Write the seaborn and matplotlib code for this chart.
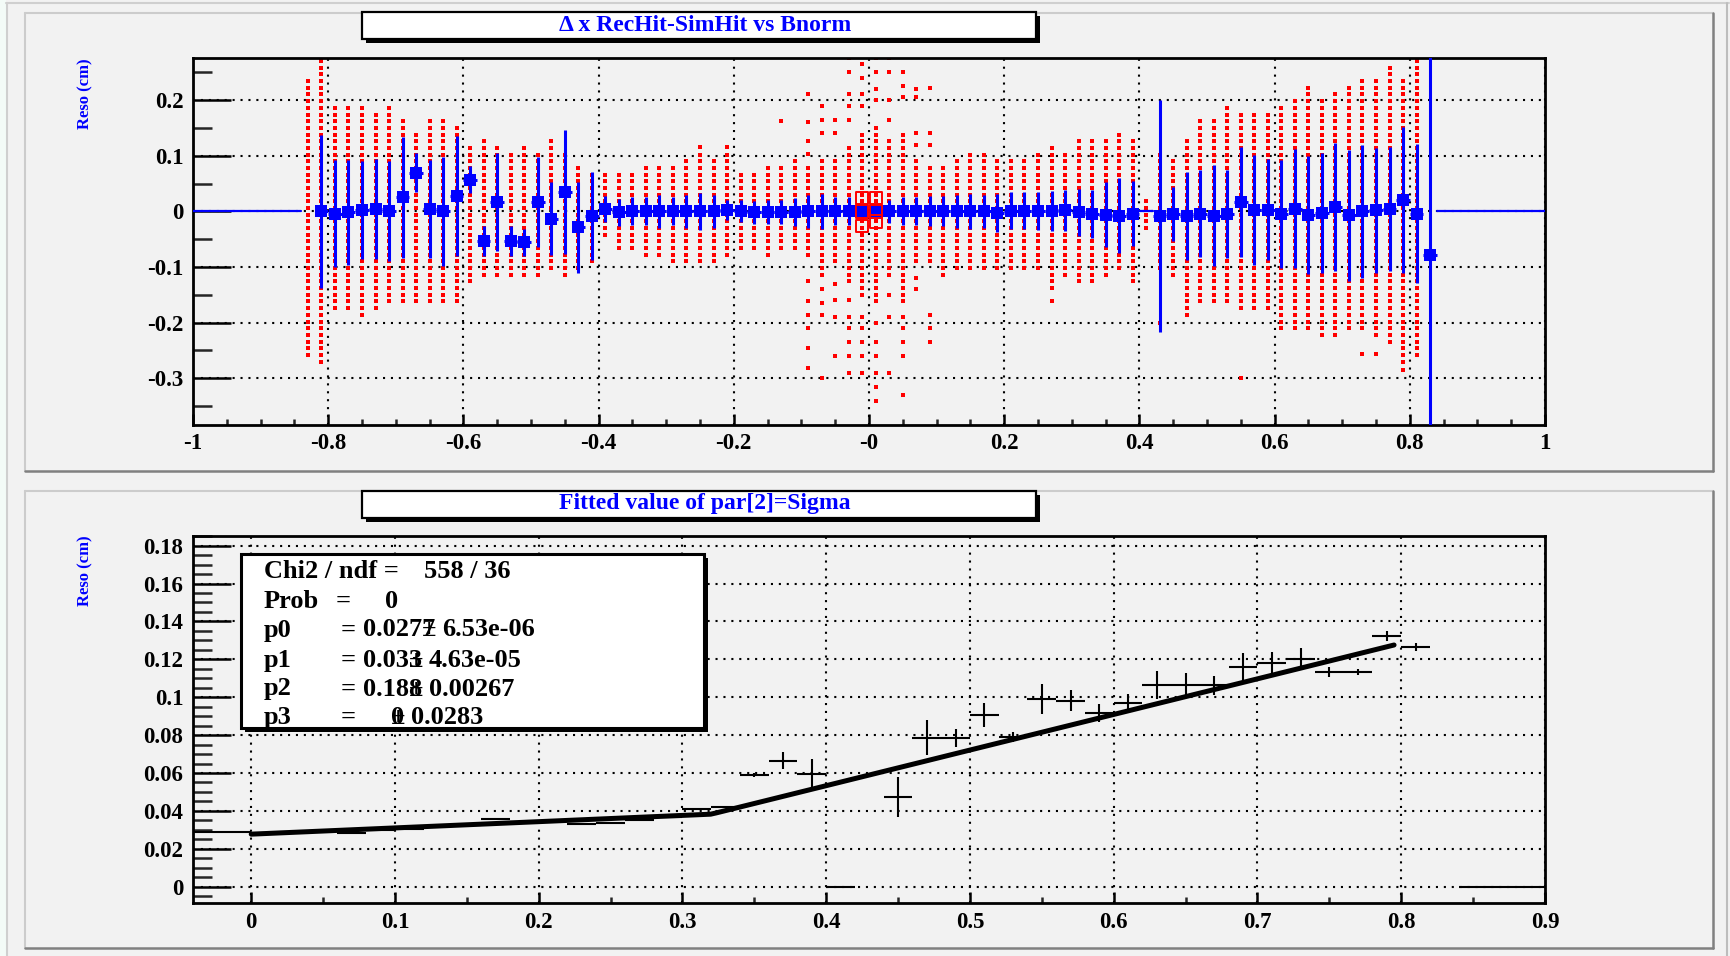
import numpy as np
import pandas as pd
import matplotlib
matplotlib.use("Agg")
import matplotlib.pyplot as plt
import seaborn as sns
from matplotlib.patches import Rectangle
from matplotlib.lines import Line2D
from matplotlib.ticker import FixedLocator, FixedFormatter, MultipleLocator

# ---------------------------------------------------------------- data
# upper pad: profile of Delta x (RecHit - SimHit) vs Bnorm, bins of 0.02
prof_x = [round(-0.81 + 0.02 * i, 2) for i in range(83)]
prof_mean = [
    0.000, -0.004, -0.002, 0.002, 0.004, 0.001, 0.025, 0.069, 0.005, 0.000,
    0.027, 0.057, -0.053, 0.017, -0.053, -0.056, 0.017, -0.013, 0.035, -0.029,
    -0.008, 0.004, -0.002, 0.000, 0.000, 0.000, 0.000, 0.000, 0.000, 0.000,
    0.003, 0.000, -0.002, -0.001, -0.001, -0.001, 0.000, 0.000, 0.000, 0.000,
    0.000, 0.000, 0.000, 0.000, 0.000, 0.000, 0.000, 0.000, 0.000, 0.000,
    -0.003, 0.001, 0.001, 0.001, 0.000, 0.002, -0.002, -0.005, -0.006, -0.008,
    -0.004, np.nan, -0.008, -0.005, -0.008, -0.004, -0.008, -0.005, 0.017, 0.002,
    0.003, -0.005, 0.005, -0.007, -0.003, 0.007, -0.007, 0.000, 0.002, 0.004,
    0.020, -0.004, -0.0785,
]
prof_err = [
    0.137, 0.096, 0.095, 0.088, 0.090, 0.090, 0.108, 0.035, 0.088, 0.098,
    0.108, 0.024, 0.027, 0.088, 0.027, 0.024, 0.081, 0.066, 0.112, 0.082,
    0.079, 0.024, 0.025, 0.025, 0.025, 0.030, 0.025, 0.030, 0.033, 0.030,
    0.018, 0.020, 0.020, 0.021, 0.021, 0.025, 0.030, 0.032, 0.025, 0.025,
    0.010, 0.010, 0.021, 0.025, 0.025, 0.027, 0.027, 0.030, 0.031, 0.030,
    0.034, 0.033, 0.033, 0.034, 0.036, 0.037, 0.042, 0.043, 0.058, 0.067,
    0.058, np.nan, 0.208, 0.048, 0.079, 0.078, 0.091, 0.079, 0.099, 0.099,
    0.091, 0.097, 0.107, 0.106, 0.107, 0.115, 0.118, 0.119, 0.112, 0.112,
    0.131, 0.125, 1.000,
]
# empty profile bins drawn as a flat line at zero
empty_lo = [-1.00, 0.40, 0.84]
empty_hi = [-0.84, 0.42, 1.00]

# 2D occupancy (box style): filled y-cells per x column, cell height 0.012
cell_x = [round(-0.83 + 0.02 * i, 2) for i in range(83)]
cell_top = [
    0.236, 0.272, 0.190, 0.190, 0.190, 0.178, 0.190, 0.164, 0.140, 0.164,
    0.164, 0.152, 0.116, 0.128, 0.116, 0.104, 0.116, 0.104, 0.128, 0.104,
    0.080, 0.068, 0.068, 0.068, 0.068, 0.080, 0.080, 0.080, 0.092, 0.104,
    0.092, 0.104, 0.068, 0.068, 0.080, 0.080, 0.092, 0.080, 0.100, 0.100,
    0.120, 0.140, 0.150, 0.130, 0.140, 0.100, 0.085, 0.080, 0.092, 0.104,
    0.104, 0.092, 0.092, 0.092, 0.104, 0.116, 0.104, 0.128, 0.128, 0.128,
    0.140, 0.128, 0.020, 0.104, 0.090, 0.128, 0.164, 0.164, 0.188, 0.176,
    0.176, 0.176, 0.188, 0.200, 0.222, 0.200, 0.210, 0.222, 0.235, 0.235,
    0.260, 0.235, 0.272,
]
cell_bot = [
    -0.258, -0.281, -0.174, -0.174, -0.186, -0.174, -0.162, -0.162, -0.162, -0.162,
    -0.162, -0.162, -0.129, -0.117, -0.114, -0.117, -0.117, -0.117, -0.105, -0.117,
    -0.105, -0.090, -0.045, -0.066, -0.066, -0.078, -0.078, -0.090, -0.090, -0.090,
    -0.090, -0.078, -0.066, -0.066, -0.078, -0.066, -0.066, -0.080, -0.120, -0.100,
    -0.130, -0.160, -0.170, -0.120, -0.170, -0.100, -0.100, -0.114, -0.102, -0.102,
    -0.102, -0.102, -0.102, -0.102, -0.102, -0.138, -0.114, -0.126, -0.126, -0.114,
    -0.102, -0.126, -0.040, -0.102, -0.114, -0.174, -0.162, -0.162, -0.162, -0.183,
    -0.174, -0.174, -0.210, -0.210, -0.210, -0.222, -0.222, -0.210, -0.210, -0.222,
    -0.234, -0.270, -0.258,
]
# isolated occupied cells away from the dense columns
lone_x = [-0.13, -0.09, -0.09, -0.09, -0.09, -0.09, -0.09, -0.09, -0.09, -0.09, -0.09,
          -0.07, -0.07, -0.07, -0.07, -0.07, -0.07, -0.07,
          -0.05, -0.05, -0.05, -0.05, -0.05, -0.05,
          -0.03, -0.03, -0.03, -0.03, -0.03, -0.03, -0.03, -0.03, -0.03, -0.03, -0.03,
          -0.01, -0.01, -0.01, -0.01, -0.01, -0.01, -0.01, -0.01, -0.01,
          0.01, 0.01, 0.01, 0.01, 0.01, 0.01, 0.01, 0.01, 0.01, 0.01,
          0.03, 0.03, 0.03, 0.03, 0.03, 0.03, 0.03,
          0.05, 0.05, 0.05, 0.05, 0.05, 0.05, 0.05, 0.05,
          0.07, 0.07, 0.07, 0.07, 0.07, 0.07,
          0.09, 0.09, 0.09, 0.09, 0.09, 0.09,
          0.27, 0.43, 0.47, 0.55, 0.73, 0.75, 0.79, -0.21, -0.25]
lone_y = [0.162, 0.210, 0.161, 0.126, 0.103, -0.126, -0.162, -0.186, -0.210, -0.246, -0.282,
          0.190, 0.165, 0.140, -0.140, -0.165, -0.186, -0.300,
          0.164, 0.140, -0.130, -0.160, -0.190, -0.260,
          0.275, 0.250, 0.210, 0.190, 0.165, -0.160, -0.190, -0.210, -0.235, -0.260, -0.290,
          0.265, 0.240, 0.210, 0.190, -0.190, -0.210, -0.235, -0.260, -0.290,
          0.275, 0.250, 0.220, 0.200, -0.200, -0.235, -0.260, -0.290, -0.315, -0.340,
          0.275, 0.250, 0.200, 0.165, -0.150, -0.190, -0.290,
          0.250, 0.225, 0.205, -0.190, -0.210, -0.235, -0.260, -0.330,
          0.220, 0.205, 0.140, 0.120, -0.120, -0.140,
          0.222, 0.140, 0.120, -0.186, -0.210, -0.235,
          -0.162, -0.200, -0.186, -0.300, -0.257, -0.257, -0.285, 0.115, 0.115]
# heavily populated cells near Bnorm = 0 (drawn as open boxes)
big_x = [-0.01, -0.01, -0.01, 0.01, 0.01, 0.01]
big_y = [0.024, 0.000, -0.026, 0.024, 0.000, -0.018]

# lower pad: fitted sigma per Bnorm slice
sig_x = [round(-0.03 + 0.02 * i, 2) for i in range(47)]
sig_val = [
    0.0290, 0.0288, 0.0281, 0.0287, 0.0292, 0.0285, 0.0298, 0.0303, 0.0318, 0.0325,
    0.0356, 0.0340, 0.0345, 0.0331, 0.0336, 0.0352, 0.0370, 0.0408, 0.0420, 0.0589,
    0.0665, 0.0593, 0.0, np.nan, 0.0475, 0.0786, 0.0786, 0.0906, 0.0790, 0.0989,
    0.0982, 0.0918, 0.0968, 0.1064, 0.1064, 0.1064, 0.1158, 0.1179, 0.1201, 0.1131,
    0.1131, 0.1325, 0.1265, np.nan, 0.0, 0.0, 0.0,
]
sig_err = [
    0.0004, 0.0004, 0.0004, 0.0004, 0.0004, 0.0004, 0.0004, 0.0004, 0.0004, 0.0004,
    0.0004, 0.0004, 0.0004, 0.0004, 0.0004, 0.0004, 0.0005, 0.0005, 0.0006, 0.0010,
    0.0044, 0.0080, 0.0, np.nan, 0.0105, 0.0092, 0.0047, 0.0062, 0.0025, 0.0079,
    0.0055, 0.0048, 0.0048, 0.0075, 0.0064, 0.0050, 0.0077, 0.0059, 0.0060, 0.0026,
    0.0016, 0.0026, 0.0020, np.nan, 0.0, 0.0, 0.0,
]
# fit result (broken line, slope p1 below the knee, p2 above it)
p0, p0_err = 0.0277, "6.53e-06"
p1, p1_err = 0.033, "4.63e-05"
p2, p2_err = 0.188, "0.00267"
p3, p3_err = 0, "0.0283"
knee = 0.32
fit_range = (0.0, 0.795)
chi2, ndf = 558, 36

top_xticks = [-1, -0.8, -0.6, -0.4, -0.2, 0, 0.2, 0.4, 0.6, 0.8, 1]
top_xlabels = ["-1", "-0.8", "-0.6", "-0.4", "-0.2", "-0", "0.2", "0.4", "0.6", "0.8", "1"]
top_yticks = [-0.3, -0.2, -0.1, 0, 0.1, 0.2]
top_ylabels = ["-0.3", "-0.2", "-0.1", "0", "0.1", "0.2"]
bot_xticks = [0, 0.1, 0.2, 0.3, 0.4, 0.5, 0.6, 0.7, 0.8, 0.9]
bot_xlabels = ["0", "0.1", "0.2", "0.3", "0.4", "0.5", "0.6", "0.7", "0.8", "0.9"]
bot_yticks = [0, 0.02, 0.04, 0.06, 0.08, 0.1, 0.12, 0.14, 0.16, 0.18]
bot_ylabels = ["0", "0.02", "0.04", "0.06", "0.08", "0.1", "0.12", "0.14", "0.16", "0.18"]

# ---------------------------------------------------------------- style
sns.set_style("white")
plt.rcParams["font.family"] = ["Liberation Serif", "DejaVu Serif"]
plt.rcParams["font.weight"] = "bold"
plt.rcParams["axes.unicode_minus"] = False

W, H = 1731, 956
BG = "#f2f2f2"
fig = plt.figure(figsize=(W / 100, H / 100), dpi=100, facecolor=BG)


def fx(px):
    return px / W


def fy(py):
    return 1 - py / H


def hline(x0, x1, y, color, lw, z=1):
    fig.add_artist(Line2D([fx(x0), fx(x1)], [fy(y), fy(y)], transform=fig.transFigure,
                          color=color, lw=lw, zorder=z))


def vline(x, y0, y1, color, lw, z=1):
    fig.add_artist(Line2D([fx(x), fx(x)], [fy(y0), fy(y1)], transform=fig.transFigure,
                          color=color, lw=lw, zorder=z))


def frame_box(x0, y0, x1, y1, z=5, lw=1.6, shadow=4):
    fig.add_artist(Rectangle((fx(x0 + shadow), fy(y1 + shadow)), fx(x1 - x0), fy(y0) - fy(y1),
                             transform=fig.transFigure, facecolor="black",
                             edgecolor="none", zorder=z))
    fig.add_artist(Rectangle((fx(x0), fy(y1)), fx(x1 - x0), fy(y0) - fy(y1),
                             transform=fig.transFigure, facecolor="white",
                             edgecolor="black", lw=lw, zorder=z + 0.1))


# canvas border
fig.add_artist(Rectangle((0, 0), fx(6), 1, transform=fig.transFigure,
                         facecolor="#f3fbf7", edgecolor="none", zorder=-3))
hline(6, 1729, 3, "#cfcfcf", 1.5, -2)
vline(7, 3, 956, "#cfcfcf", 1.5, -2)
vline(1727, 3, 956, "#bdbdbd", 1.5, -2)

# pads with bevelled borders
for (top, bot) in [(12.7, 470.7), (491, 948)]:
    fig.add_artist(Rectangle((fx(25), fy(bot)), fx(1713 - 25), fy(top) - fy(bot),
                             transform=fig.transFigure, facecolor=BG,
                             edgecolor="none", zorder=-1))
    hline(25, 1713, top, "#cccccc", 1.5, -0.5)
    vline(25, top, bot, "#cccccc", 1.5, -0.5)
    hline(25, 1713, bot, "#808080", 1.8, -0.5)
    vline(1713, top, bot, "#808080", 1.8, -0.5)

ax1 = fig.add_axes([fx(193), fy(425), fx(1545 - 193), fy(58.3) - fy(425)])
ax2 = fig.add_axes([fx(193), fy(903.3), fx(1545 - 193), fy(536) - fy(903.3)])

TICK_FS = 16.5
grid_kw = dict(color="black", lw=1.5, linestyle=(0, (1, 2.8)))
for ax in (ax1, ax2):
    ax.set_facecolor(BG)
    for s in ax.spines.values():
        s.set_linewidth(2.0)
        s.set_color("black")
    ax.set_axisbelow(True)
    ax.grid(True, which="major", **grid_kw)
    ax.tick_params(axis="y", which="major", direction="in", length=27, width=1.8,
                   left=True, right=False, labelsize=TICK_FS, pad=7, colors="black")
    ax.tick_params(axis="y", which="minor", direction="in", length=14, width=1.8,
                   left=True, right=False)
    ax.tick_params(axis="x", which="major", direction="in", length=8, width=1.8,
                   bottom=True, top=False, labelsize=TICK_FS, pad=6, colors="black")
    ax.tick_params(axis="x", which="minor", direction="in", length=4, width=1.8,
                   bottom=True, top=False)

# ---------------------------------------------------------------- upper pad
grid_y = np.round(-0.378 + 0.012 * np.arange(55), 4)
cells = []
for x, t, b in zip(cell_x, cell_top, cell_bot):
    for y in grid_y[(grid_y >= b - 1e-9) & (grid_y <= t + 1e-9)]:
        cells.append((x, y))
cells += list(zip(lone_x, lone_y))
cell_df = pd.DataFrame(cells, columns=["bnorm", "dx"])
sns.scatterplot(data=cell_df, x="bnorm", y="dx", marker="s", s=7, color="#ff0000",
                linewidth=0, ax=ax1, zorder=2, legend=False)

prof = pd.DataFrame({"bnorm": prof_x, "mean": prof_mean, "err": prof_err}).dropna()
ax1.errorbar(prof["bnorm"], prof["mean"], yerr=prof["err"], xerr=0.01, fmt="none",
             ecolor="#0000ff", elinewidth=2.2, capsize=0, zorder=3)
sns.scatterplot(data=prof, x="bnorm", y="mean", marker="s", s=72, color="#0000ff",
                linewidth=0, ax=ax1, zorder=4, legend=False)
for lo, hi in zip(empty_lo, empty_hi):
    ax1.plot([lo, hi], [0, 0], color="#0000ff", lw=1.6, zorder=3)
sns.scatterplot(x=big_x, y=big_y, marker="s", s=80, facecolor="none",
                edgecolor="#ff0000", linewidth=1.4, ax=ax1, zorder=4.5, legend=False)

ax1.set_xlim(-1, 1)
ax1.set_ylim(-0.384, 0.275)
ax1.xaxis.set_major_locator(FixedLocator(top_xticks))
ax1.xaxis.set_major_formatter(FixedFormatter(top_xlabels))
ax1.xaxis.set_minor_locator(MultipleLocator(0.05))
ax1.yaxis.set_major_locator(FixedLocator(top_yticks))
ax1.yaxis.set_major_formatter(FixedFormatter(top_ylabels))
ax1.yaxis.set_minor_locator(MultipleLocator(0.05))
ax1.set_xlabel("")
ax1.set_ylabel("")

# ---------------------------------------------------------------- lower pad
sig = pd.DataFrame({"bnorm": sig_x, "sigma": sig_val, "err": sig_err}).dropna()
ax2.errorbar(sig["bnorm"], sig["sigma"], yerr=sig["err"], xerr=0.01, fmt="none",
             ecolor="black", elinewidth=1.5, capsize=0, zorder=3)
fx_curve = np.linspace(fit_range[0], fit_range[1], 200)
fy_curve = np.where(fx_curve < knee, p0 + p1 * fx_curve,
                    p0 + p1 * knee + p2 * (fx_curve - knee))
sns.lineplot(x=fx_curve, y=fy_curve, color="black", lw=3.6, ax=ax2, zorder=4)

ax2.set_xlim(-0.0405, 0.9)
ax2.set_ylim(-0.0088, 0.1851)
ax2.xaxis.set_major_locator(FixedLocator(bot_xticks))
ax2.xaxis.set_major_formatter(FixedFormatter(bot_xlabels))
ax2.xaxis.set_minor_locator(MultipleLocator(0.05))
ax2.yaxis.set_major_locator(FixedLocator(bot_yticks))
ax2.yaxis.set_major_formatter(FixedFormatter(bot_ylabels))
ax2.yaxis.set_minor_locator(MultipleLocator(0.005))
ax2.set_xlabel("")
ax2.set_ylabel("")

# ---------------------------------------------------------------- titles and labels
BLUE = "#0000ff"
frame_box(362, 12, 1036, 39)
fig.text(fx(705), fy(25.5), "\u0394 x RecHit-SimHit vs Bnorm", color=BLUE, fontsize=17,
         ha="center", va="center", zorder=6)
frame_box(362, 491, 1036, 518)
fig.text(fx(705), fy(504), "Fitted value of par[2]=Sigma", color=BLUE, fontsize=17,
         ha="center", va="center", zorder=6)
for top in (58, 535):
    fig.text(fx(85), fy(top), "Reso (cm)", color=BLUE, fontsize=12, rotation=90,
             ha="center", va="top", zorder=6)

# ---------------------------------------------------------------- fit statistics box
frame_box(241, 554, 704, 728, z=7, lw=2.2, shadow=4)
ST_FS = 19
kw = dict(fontsize=ST_FS, color="black", va="center", ha="left", zorder=8)
fig.text(fx(264), fy(572), "Chi2 / ndf =", **kw)
fig.text(fx(424), fy(572), f"{chi2} / {ndf}", **kw)
fig.text(fx(264), fy(601.7), "Prob", **kw)
fig.text(fx(336), fy(601.7), "=", **kw)
fig.text(fx(385), fy(601.7), "0", **kw)

renderer = fig.canvas.get_renderer()
rows = [("p0", f"{p0:g}", p0_err, 630), ("p1", f"{p1:g}", p1_err, 660.7),
        ("p2", f"{p2:g}", p2_err, 689), ("p3", f"{p3:>5g}", p3_err, 717.7)]
for name, val, err, yy in rows:
    fig.text(fx(264), fy(yy), name, **kw)
    fig.text(fx(341), fy(yy), "=", **kw)
    if val.strip() == val:
        t = fig.text(fx(363), fy(yy), val, **kw)
    else:
        t = fig.text(fx(391), fy(yy), val.strip(), **kw)
    x_end = t.get_window_extent(renderer).x1
    # the plus-minus sign is set back over the last digit of the value
    fig.text(fx(x_end + 1), fy(yy), "\u00b1", fontsize=ST_FS, color="black",
             va="center", ha="right", zorder=8)
    fig.text(fx(x_end + 7), fy(yy), err, **kw)

fig.savefig("out.png", dpi=100, facecolor=BG)
